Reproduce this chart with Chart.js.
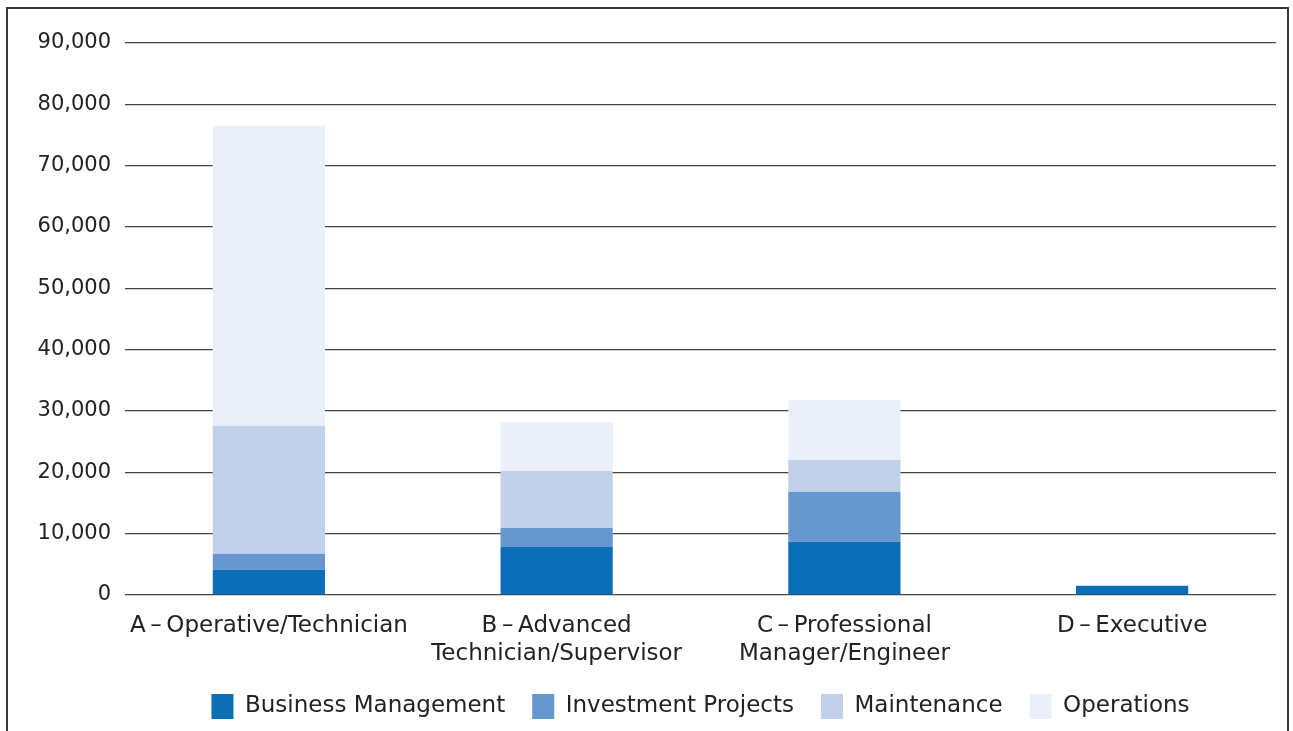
<!DOCTYPE html>
<html>
<head>
<meta charset="utf-8">
<script src="https://cdn.jsdelivr.net/npm/chart.js@4/dist/chart.umd.min.js"></script>
<style>
  html, body { margin: 0; padding: 0; background: #fff; }
  #frame {
    position: absolute; left: 6px; top: 7px; width: 1283px; height: 740px;
    border: 2px solid #3a3a3a; box-sizing: border-box;
  }
  #wrap { position: absolute; left: 8px; top: 9px; width: 1280px; height: 722px; }
</style>
</head>
<body>
<div id="frame"></div>
<div id="wrap"><canvas id="chart"></canvas></div>
<script>
const categories = [
  'A\u2009\u2013\u2009Operative/Technician',
  ['B\u2009\u2013\u2009Advanced', 'Technician/Supervisor'],
  ['C\u2009\u2013\u2009Professional', 'Manager/Engineer'],
  'D\u2009\u2013\u2009Executive'
];
const businessManagement = [4100, 7800, 8650, 1500];
const investmentProjects = [2600, 3100, 8150, 0];
const maintenance = [20900, 9300, 5200, 0];
const operations = [48900, 8000, 9800, 0];

const FONT = 'DejaVu Sans';
const TEXT = '#222';

function dataset(label, values, color) {
  return {
    label: label,
    data: values,
    backgroundColor: color,
    borderWidth: 0,
    categoryPercentage: 1,
    barPercentage: 0.39
  };
}

new Chart(document.getElementById('chart'), {
  type: 'bar',
  data: {
    labels: categories,
    datasets: [
      dataset('Business Management', businessManagement, '#0a6fb7'),
      dataset('Investment Projects', investmentProjects, '#6697cf'),
      dataset('Maintenance', maintenance, '#c1d1ea'),
      dataset('Operations', operations, '#eaeff8')
    ]
  },
  options: {
    responsive: true,
    maintainAspectRatio: false,
    animation: false,
    layout: { padding: { top: 34, right: 12, left: 0, bottom: 2 } },
    plugins: {
      tooltip: { enabled: false },
      legend: {
        position: 'bottom',
        fullSize: false,
        labels: {
          color: TEXT,
          font: { family: FONT, size: 23 },
          boxWidth: 22,
          boxHeight: 25,
          padding: 27
        }
      }
    },
    scales: {
      x: {
        stacked: true,
        afterFit: (s) => { s.height -= 18; },
        grid: { display: false, drawTicks: false },
        border: { display: false },
        ticks: {
          color: TEXT,
          font: { family: FONT, size: 23, lineHeight: 1.22 },
          padding: 17,
          maxRotation: 0,
          autoSkip: false
        }
      },
      y: {
        stacked: true,
        min: 0,
        max: 90000,
        afterFit: (s) => { s.width = 117; },
        grid: { color: '#444', lineWidth: 1.3, drawTicks: false },
        border: { display: false },
        ticks: {
          stepSize: 10000,
          color: TEXT,
          font: { family: FONT, size: 21 },
          padding: 14,
          callback: (v) => v.toLocaleString('en-US')
        }
      }
    }
  }
});
</script>
</body>
</html>
